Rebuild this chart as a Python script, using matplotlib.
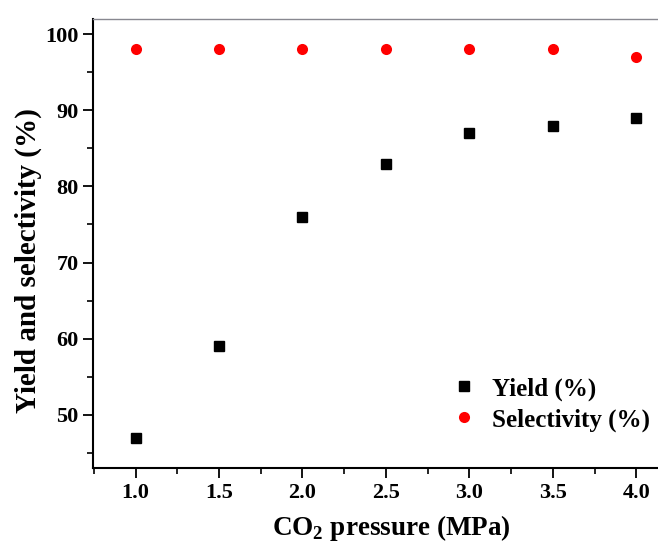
import matplotlib
matplotlib.use('Agg')
import matplotlib.pyplot as plt
from matplotlib.ticker import MultipleLocator

plt.rcParams['font.family'] = 'Liberation Serif'
plt.rcParams['font.weight'] = 'bold'
plt.rcParams['mathtext.fontset'] = 'custom'
plt.rcParams['mathtext.rm'] = 'Liberation Serif:bold'
plt.rcParams['mathtext.bf'] = 'Liberation Serif:bold'

pressure = [1.0, 1.5, 2.0, 2.5, 3.0, 3.5, 4.0]
yield_pct = [47, 59, 76, 83, 87, 88, 89]
selectivity_pct = [98, 98, 98, 98, 98, 98, 97]

fig = plt.figure(figsize=(6.58, 5.46), dpi=100)
ax = fig.add_axes([93/658, 78/546, 1 - 93/658, (468 - 19)/546])

ax.plot(pressure, yield_pct, 's', color='black', ms=7, label='Yield (%)')
ax.plot(pressure, selectivity_pct, 'o', color='red', ms=8, mec='none', label='Selectivity (%)')

ax.set_xlim(0.745, 4.13)
ax.set_ylim(43, 102)
ax.xaxis.set_major_locator(MultipleLocator(0.5))
ax.xaxis.set_minor_locator(MultipleLocator(0.25))
ax.yaxis.set_major_locator(MultipleLocator(10))
ax.yaxis.set_minor_locator(MultipleLocator(5))

ax.spines['right'].set_visible(False)
ax.spines['top'].set_color('#888890')
ax.spines['top'].set_linewidth(1.0)
for s in ('left', 'bottom'):
    ax.spines[s].set_linewidth(1.5)

ax.tick_params(which='major', direction='out', length=7, width=1.3, labelsize=16, top=False, right=False)
ax.tick_params(which='minor', direction='out', length=4, width=1.2, top=False, right=False)
for lab in ax.get_xticklabels() + ax.get_yticklabels():
    lab.set_fontweight('bold')

ax.set_xlabel(r'CO$_{2}$ pressure (MPa)', fontsize=19.5, fontweight='bold')
ax.set_ylabel('Yield and selectivity (%)', fontsize=21, fontweight='bold')
ax.xaxis.set_label_coords(0.529, -0.1)
ax.yaxis.set_label_coords(-0.09, 0.463)

ax.legend(loc='lower right', bbox_to_anchor=(1.025, 0.031), frameon=False,
          prop={'size': 18, 'weight': 'bold'}, handletextpad=0.5, labelspacing=0.3,
          handlelength=1.2)

fig.savefig('out.png', dpi=100)
